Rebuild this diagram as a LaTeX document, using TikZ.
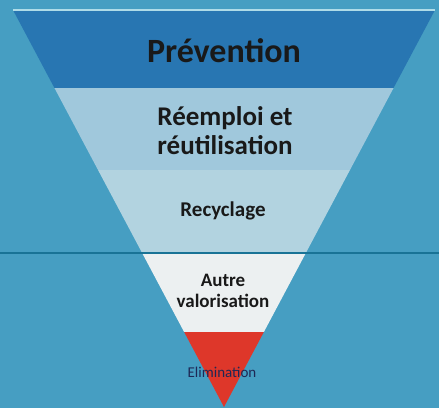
\documentclass[tikz,border=0pt]{standalone}
\usepackage{fontspec}
\setmainfont{Carlito}
\usetikzlibrary{positioning}
\definecolor{fond}{RGB}{70,158,194}
\definecolor{prevc}{RGB}{40,118,178}
\definecolor{reemc}{RGB}{160,200,220}
\definecolor{recyc}{RGB}{178,211,224}
\definecolor{autrc}{RGB}{236,240,241}
\definecolor{elimc}{RGB}{222,55,42}
\definecolor{ligne}{RGB}{25,115,150}
\definecolor{bord}{RGB}{175,220,232}
\definecolor{elimtxt}{RGB}{30,40,85}

\begin{document}
\begin{tikzpicture}[x=1pt,y=-1pt,
                    level text/.style={font=\bfseries,text=black!90,align=center,inner sep=0pt}]

  \fill[fond] (0,0) rectangle (439,408);
  \useasboundingbox (0,0) rectangle (439,408);

  \begin{scope}
    \clip (13,10) -- (435,10) -- (224,407) -- cycle;
    \fill[prevc] (0,10) rectangle (439,88);
    \fill[reemc] (0,88) rectangle (439,170);
    \fill[recyc] (0,170) rectangle (439,252);
    \fill[autrc] (0,252) rectangle (439,332);
    \fill[elimc] (0,332) rectangle (439,408);
  \end{scope}

  \draw[bord,line width=2pt] (13,10) -- (435,10);
  \draw[ligne,line width=1.5pt] (0,253) -- (439,253);

  \node[level text,font=\bfseries\fontsize{34}{36}\selectfont] (prev) at (224,51) {Prévention};
  \node[level text,font=\bfseries\fontsize{27}{29}\selectfont] (reem) at (225,131) {Réemploi et\\réutilisation};
  \node[level text,font=\bfseries\fontsize{21}{24}\selectfont] (recy) at (223,211) {Recyclage};
  \node[level text,font=\bfseries\fontsize{19}{21}\selectfont] (autr) at (223,291) {Autre\\valorisation};
  \node[level text,font=\fontsize{15}{17}\selectfont,text=elimtxt] (elim) at (222,372) {Elimination};
\end{tikzpicture}
\end{document}
